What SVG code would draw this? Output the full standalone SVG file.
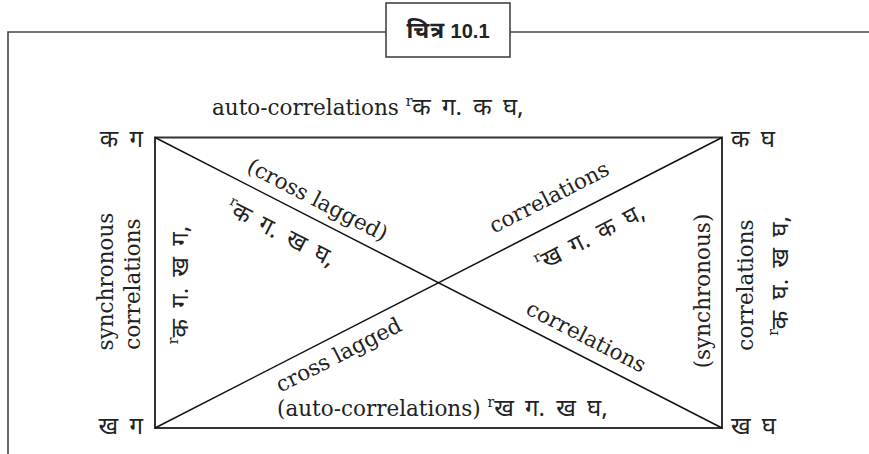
<svg xmlns="http://www.w3.org/2000/svg" width="869" height="454" viewBox="0 0 869 454">
<style>
.frame{fill:none;stroke:#444;stroke-width:1.6}
.rect{fill:none;stroke:#333;stroke-width:2}
.diag{stroke:#111;stroke-width:1.5;fill:none}
.s{font-family:"DejaVu Serif","Liberation Serif",serif;font-size:21.5px;fill:#222}
.d{font-family:"Noto Sans Devanagari","Noto Sans","Liberation Sans",sans-serif;font-size:24px;word-spacing:5px;fill:#222}
.sup{font-family:"DejaVu Serif","Liberation Serif",serif;font-size:14px}
.t{font-family:"Noto Sans Devanagari","Liberation Sans","Noto Sans",sans-serif;font-weight:bold;fill:#222}
</style>
<rect width="869" height="454" fill="#fff"/>
<g id="frame">
<polyline class="frame" points="386,32 8,32 8,454"/>
<line class="frame" x1="510" y1="32" x2="869" y2="32"/>
</g>
<g id="title">
<rect class="frame" x="386" y="3" width="124" height="54"/>
<text class="t" x="448" y="38" text-anchor="middle"><tspan font-size="23px" letter-spacing="1">चित्र</tspan><tspan font-family="Liberation Sans, sans-serif" font-size="20px"> 10.1</tspan></text>
</g>
<g id="connectors">
<rect class="rect" x="155" y="137.5" width="567" height="290.5"/>
<line class="diag" x1="155" y1="137.5" x2="722" y2="428"/>
<line class="diag" x1="155" y1="428" x2="722" y2="137.5"/>
</g>
<g id="node-kg"><text class="d" x="143" y="147" text-anchor="end">क ग</text></g>
<g id="node-kgh"><text class="d" x="731" y="147">क घ</text></g>
<g id="node-khg"><text class="d" x="143" y="434" text-anchor="end">ख ग</text></g>
<g id="node-khgh"><text class="d" x="731" y="434">ख घ</text></g>
<g id="labels">
<text class="s" x="212" y="115">auto-correlations <tspan class="sup" dy="-9">r</tspan><tspan class="d" dy="9">क ग. क घ,</tspan></text>
<text class="s" x="277" y="416">(auto-correlations) <tspan class="sup" dy="-9">r</tspan><tspan class="d" dy="9">ख ग. ख घ,</tspan></text>
<text class="s" transform="translate(309.2,216.1) rotate(27.17)" y="-11" text-anchor="middle">(cross lagged)</text>
<text class="s" transform="translate(293.5,208.1) rotate(27.17)" y="36" text-anchor="middle"><tspan class="sup" dy="-10">r</tspan><tspan class="d" dy="10">क ग. ख घ,</tspan></text>
<text class="s" transform="translate(560.7,219.8) rotate(-27.17)" y="-18" text-anchor="middle">correlations</text>
<text class="s" transform="translate(576.7,211.6) rotate(-27.17)" y="37" text-anchor="middle"><tspan class="sup" dy="-10">r</tspan><tspan class="d" dy="10">ख ग. क घ,</tspan></text>
<text class="s" transform="translate(330,338.2) rotate(-27.17)" y="26" text-anchor="middle">cross lagged</text>
<text class="s" transform="translate(577.4,353.8) rotate(27.17)" y="-12" text-anchor="middle">correlations</text>
<text class="s" transform="translate(113,281.5) rotate(-90)" text-anchor="middle">synchronous</text>
<text class="s" transform="translate(140,284) rotate(-90)" text-anchor="middle">correlations</text>
<text class="s" transform="translate(188,285) rotate(-90)" text-anchor="middle"><tspan class="sup" dy="-10">r</tspan><tspan class="d" dy="10">क ग. ख ग,</tspan></text>
<text class="s" transform="translate(710,291) rotate(-90)" text-anchor="middle">(synchronous)</text>
<text class="s" transform="translate(753,285) rotate(-90)" text-anchor="middle">correlations</text>
<text class="s" transform="translate(788,276) rotate(-90)" text-anchor="middle"><tspan class="sup" dy="-10">r</tspan><tspan class="d" dy="10">क घ. ख घ,</tspan></text>
</g>
</svg>
